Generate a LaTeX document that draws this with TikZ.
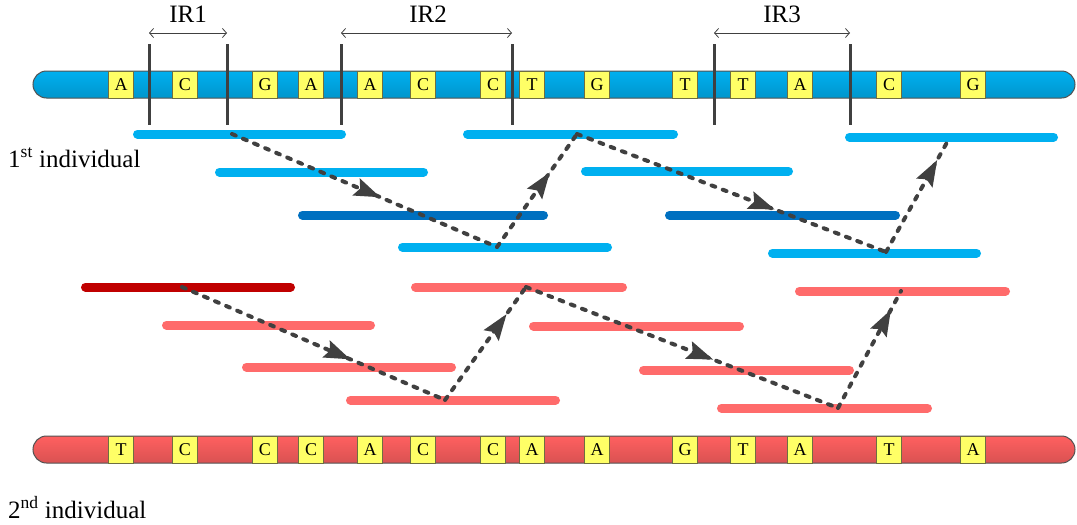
\documentclass[tikz,border=0pt]{standalone}
\usepackage{fontspec}
\setmainfont{Liberation Serif}
\usetikzlibrary{arrows.meta,decorations.markings}

\definecolor{chromblue}{HTML}{00B0F0}
\definecolor{chromred}{HTML}{FF6060}
\definecolor{readblue}{HTML}{00B0F0}
\definecolor{readnavy}{HTML}{0070C0}
\definecolor{readpink}{HTML}{FF6B6B}
\definecolor{readcrimson}{HTML}{C00000}
\definecolor{nucyellow}{HTML}{FFFF66}
\definecolor{nucedge}{HTML}{6E6E40}
\definecolor{darkline}{HTML}{404040}

\begin{document}
\begin{tikzpicture}[x=1pt,y=-1pt,
  chrom/.style={draw=darkline!90, line width=1pt, rounded corners=13.5pt,
    minimum width=1042pt, minimum height=27pt, inner sep=0pt},
  nuc/.style={draw=nucedge, fill=nucyellow, line width=0.8pt, minimum width=25pt,
    minimum height=27pt, inner sep=0pt, font=\fontsize{18}{20}\selectfont},
  cut/.style={draw=darkline, line width=3pt},
  span/.style={draw=darkline, line width=0.8pt,
    {Straight Barb[length=4pt,width=9pt]}-{Straight Barb[length=4pt,width=9pt]}},
  read/.style={line width=9pt, line cap=round},
  jump/.style={draw=darkline, line width=4pt, dash pattern=on 4pt off 8pt,
    line cap=round, postaction={decorate},
    decoration={markings, mark=at position #1 with
      {\arrow[solid]{Stealth[length=26pt,width=18pt,inset=4pt]}}}},
  lbl/.style={font=\fontsize{25}{30}\selectfont, inner sep=0pt}
]
\useasboundingbox (0,0) rectangle (1077,525);

\node[chrom, top color=chromblue, bottom color=chromblue!85!black] (upper) at (554,84.5) {};
\node[chrom, top color=chromred, bottom color=chromred!85!black] (lower) at (554,449.5) {};

\foreach \x/\l [count=\i] in {121/A,185/C,265/G,311/A,370/A,423/C,493/C,532/T,
    597/G,685/T,743/T,800/A,889/C,973/G}
  \node[nuc] (u\i) at (\x,84.5) {\l};
\foreach \x/\l [count=\i] in {121/T,185/C,265/C,311/C,370/A,423/C,493/C,532/A,
    597/A,685/G,743/T,800/A,889/T,973/A}
  \node[nuc] (d\i) at (\x,449.5) {\l};

\foreach \x [count=\i] in {149,227,341,512,714,850} {
  \draw[cut] (\x,44) -- (\x,125);
  \coordinate (s\i) at (\x,33);
}
\draw[span] (s1) -- (s2);
\draw[span] (s3) -- (s4);
\draw[span] (s5) -- (s6);
\node[lbl, anchor=base] (ir1) at (188,22) {IR1};
\node[lbl, anchor=base] (ir2) at (428,22) {IR2};
\node[lbl, anchor=base] (ir3) at (782,22) {IR3};

\node[lbl, anchor=base west] (first) at (8,167) {1\textsuperscript{st} individual};
\node[lbl, anchor=base west] (second) at (8,518) {2\textsuperscript{nd} individual};

\foreach \a/\b/\y/\c in {133/346/134/readblue, 215/428/172/readblue,
    298/548/215/readnavy, 398/612/247/readblue, 463/678/134/readblue,
    581/793/171/readblue, 665/900/215/readnavy, 768/981/253/readblue,
    845/1058/137/readblue}
  \draw[read, \c] (\a+4.5,\y) -- (\b-4.5,\y);
\foreach \a/\b/\y/\c in {81/295/287/readcrimson, 162/375/325/readpink,
    242/456/367/readpink, 346/560/400/readpink, 411/627/287/readpink,
    529/744/326/readpink, 639/854/370/readpink, 717/932/408/readpink,
    795/1010/291/readpink}
  \draw[read, \c] (\a+4.5,\y) -- (\b-4.5,\y);

\coordinate (b1) at (232,134);
\coordinate (b2) at (497,247);
\coordinate (b3) at (577,134);
\coordinate (b4) at (886,252);
\coordinate (b5) at (950,137);
\coordinate (r1) at (182,287);
\coordinate (r2) at (445,400);
\coordinate (r3) at (526,287);
\coordinate (r4) at (838,408);
\coordinate (r5) at (901,291);

\draw[jump=0.56] (b1) -- (b2);
\draw[jump=0.66] (b2) -- (b3);
\draw[jump=0.64] (b3) -- (b4);
\draw[jump=0.8] (b4) -- (b5);
\draw[jump=0.64] (r1) -- (r2);
\draw[jump=0.76] (r2) -- (r3);
\draw[jump=0.6] (r3) -- (r4);
\draw[jump=0.84] (r4) -- (r5);
\end{tikzpicture}
\end{document}
